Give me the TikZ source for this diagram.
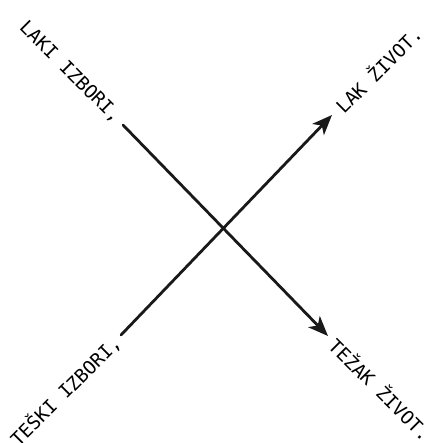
\documentclass[tikz,border=0pt]{standalone}
\usepackage{fontspec}
\setmonofont{DejaVu Sans Mono}
\usetikzlibrary{arrows.meta}
\begin{document}
\begin{tikzpicture}[x=0.75pt,y=-0.75pt,line cap=round,line join=round,
  >={Stealth[length=15pt,width=12pt,inset=4pt]},
  lbl/.style={font=\ttfamily\fontsize{14}{15}\selectfont,inner sep=1pt},
  pil/.style={line width=2.1pt,draw=black!90}]
  \useasboundingbox (0,0) rectangle (437,443);
  \coordinate (laki) at (123,125);
  \coordinate (teski) at (121,335);
  \coordinate (lak) at (332,115);
  \coordinate (tezak) at (328,336);
  \node[lbl,rotate=-45,anchor=east] (lakiL) at ([shift={(-4,-4)}]laki) {LAKI IZBORI,};
  \node[lbl,rotate=45,anchor=east] (teskiL) at ([shift={(-3,3)}]teski) {TEŠKI IZBORI,};
  \node[lbl,rotate=45,anchor=west] (lakL) at ([shift={(5,-5)}]lak) {LAK ŽIVOT.};
  \node[lbl,rotate=-45,anchor=west] (tezakL) at ([shift={(4,4)}]tezak) {TEŽAK ŽIVOT.};
  \draw[pil,->] (laki) -- (tezak);
  \draw[pil,->] (teski) -- (lak);
\end{tikzpicture}
\end{document}
